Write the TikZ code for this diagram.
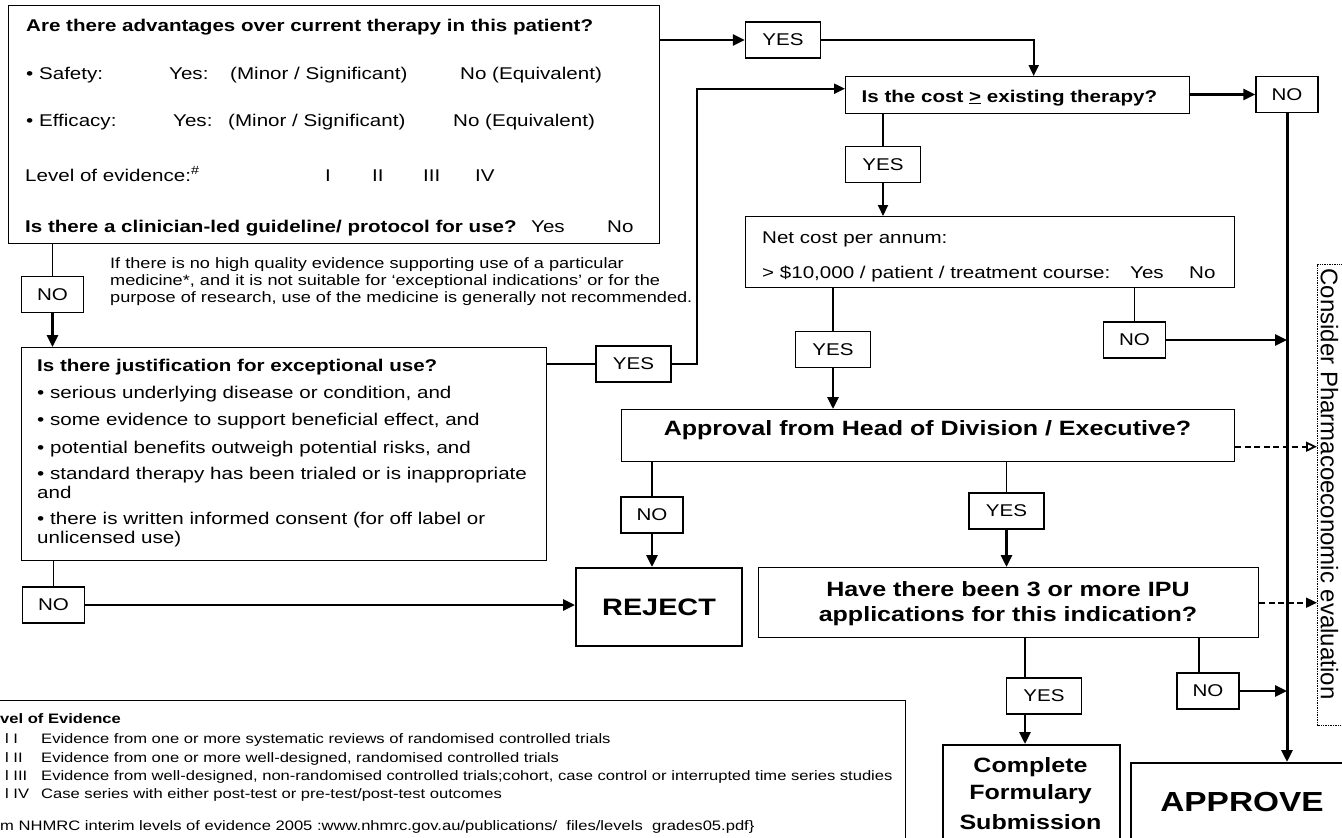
\documentclass[tikz,border=0pt]{standalone}
\usepackage{fontspec}
\setmainfont{Liberation Sans}[FakeStretch=1.21]
\newfontfamily\plainsans{Liberation Sans}
\usetikzlibrary{arrows.meta,calc}
\begin{document}
\begin{tikzpicture}[x=1pt,y=-1pt,
  box/.style={draw, line width=1.4pt, inner sep=0pt, anchor=north west},
  bigbox/.style={box, line width=2.1pt},
  lbl/.style={draw, line width=1.4pt, minimum height=36pt, inner sep=0pt, font=\fontsize{17}{20}\selectfont},
  yesbox/.style={lbl, minimum width=75pt},
  nobox/.style={lbl, minimum width=62pt},
  tx/.style={anchor=base west, inner sep=0pt, font=\fontsize{17}{20}\selectfont},
  tb/.style={anchor=base west, inner sep=0pt, font=\fontsize{17}{20}\selectfont\bfseries},
  note/.style={anchor=base west, inner sep=0pt, font=\fontsize{15}{17}\selectfont},
  leg/.style={anchor=base west, inner sep=0pt, font=\fontsize{13.7}{16}\selectfont},
  big/.style={inner sep=0pt, font=\fontsize{20.7}{25}\selectfont\bfseries},
  thinln/.style={line width=1.3pt},
  arr/.style={line width=2.8pt, -{Triangle[length=12pt,width=11pt]}},
  marr/.style={line width=2pt, -{Triangle[length=11pt,width=10pt]}},
  dsh/.style={line width=1.8pt, dash pattern=on 6pt off 3.5pt}
]
\useasboundingbox (0,0) rectangle (1342,838);

% ---------- boxes ----------
\node[box, minimum width=651pt, minimum height=238pt] (A) at (8,5) {};
\node[box, minimum width=525pt, minimum height=213pt] (B) at (21,347) {};
\node[box, minimum width=344pt, minimum height=37pt] (cost) at (845,76) {};
\node[box, minimum width=489pt, minimum height=71pt] (net) at (745,216) {};
\node[box, minimum width=613pt, minimum height=52pt] (head) at (621,409) {};
\node[box, minimum width=500pt, minimum height=70pt] (IPU) at (758,567) {};
\node[bigbox, minimum width=166pt, minimum height=78pt, font=\fontsize{23.8}{28}\selectfont\bfseries] (REJ) at (575,567) {REJECT};
\node[bigbox, minimum width=177pt, minimum height=120pt] (CMP) at (942,744) {};
\node[bigbox, minimum width=230pt, minimum height=100pt] (APP) at (1130,762) {};
\node[box, line width=1.4pt, dash pattern=on 1pt off 0.7pt, minimum width=50pt, minimum height=461pt] (CON) at (1317,264) {};
\node[box, minimum width=910pt, minimum height=150pt] (LEG) at (-5,700) {};

% ---------- YES / NO labels ----------
\node[yesbox] (YES1) at (783,40) {YES};
\node[nobox]  (NOc)  at (1287,94.5) {NO};
\node[yesbox] (YES3) at (883,164.5) {YES};
\node[yesbox] (YES2) at (633.5,364) {YES};
\node[yesbox] (YES4) at (833,349.5) {YES};
\node[nobox]  (NOn)  at (1134.5,340) {NO};
\node[nobox]  (NOa)  at (52.5,294.5) {NO};
\node[nobox]  (NOb)  at (53.5,605) {NO};
\node[nobox]  (NOh)  at (652,515) {NO};
\node[yesbox] (YES5) at (1006.5,511) {YES};
\node[yesbox] (YES6) at (1044,696) {YES};
\node[nobox]  (NOi)  at (1208,691) {NO};

% ---------- texts of box A ----------
\node[tb] (a1) at (26,31) {Are there advantages over current therapy in this patient?};
\node[tx] (a2) at (26,79) {• Safety:};
\node[tx] (a3) at (169,79) {Yes:};
\node[tx] (a4) at (230,79) {(Minor / Significant)};
\node[tx] (a5) at (460,79) {No (Equivalent)};
\node[tx] (a6) at (26,126) {• Efficacy:};
\node[tx] (a7) at (173,126) {Yes:};
\node[tx] (a8) at (228,126) {(Minor / Significant)};
\node[tx] (a9) at (453,126) {No (Equivalent)};
\node[tx] (a10) at (25,181) {Level of evidence:\textsuperscript{\#}};
\node[tx] (a11) at (325,181) {I};
\node[tx] (a12) at (372,181) {II};
\node[tx] (a13) at (423,181) {III};
\node[tx] (a14) at (475,181) {IV};
\node[tb] (a15) at (25,232) {Is there a clinician-led guideline/ protocol for use?};
\node[tx] (a16) at (531,232) {Yes};
\node[tx] (a17) at (607,232) {No};

% ---------- note ----------
\node[note] (n1) at (110,268) {If there is no high quality evidence supporting use of a particular};
\node[note] (n2) at (110,285) {medicine*, and it is not suitable for ‘exceptional indications’ or for the};
\node[note] (n3) at (110,302) {purpose of research, use of the medicine is generally not recommended.};

% ---------- texts of box B ----------
\node[tb] (b1) at (37,371) {Is there justification for exceptional use?};
\node[tx] (b2) at (37,398) {• serious underlying disease or condition, and};
\node[tx] (b3) at (37,425) {• some evidence to support beneficial effect, and};
\node[tx] (b4) at (37,453) {• potential benefits outweigh potential risks, and};
\node[tx] (b5) at (37,479) {• standard therapy has been trialed or is inappropriate};
\node[tx] (b6) at (37,498) {and};
\node[tx] (b7) at (37,524) {• there is written informed consent (for off label or};
\node[tx] (b8) at (37,543) {unlicensed use)};

% ---------- other texts ----------
\node[tb] (c1) at (861.5,102) {Is the cost \underline{>} existing therapy?};
\node[tx] (m1) at (762,243) {Net cost per annum:};
\node[tx] (m2) at (762,278) {> \$10,000 / patient / treatment course:};
\node[tx] (m3) at (1130,278) {Yes};
\node[tx] (m4) at (1189,278) {No};
\node[big] (h1) at (927.5,430) {Approval from Head of Division / Executive?};
\node[big] (i1) at (1008,589) {Have there been 3 or more IPU};
\node[big] (i2) at (1008,616) {applications for this indication?};
\node[big] (s1) at (1030.5,767) {Complete};
\node[big] (s2) at (1030.5,794) {Formulary};
\node[big] (s3) at (1030.5,822) {Submission};
\node[inner sep=0pt, font=\fontsize{27.6}{32}\selectfont\bfseries] (p1) at (1242,802) {APPROVE};
\node[inner sep=0pt, rotate=-90, font=\plainsans\fontsize{24}{28}\selectfont] (ct) at (1329.5,484) {Consider Pharmacoeconomic evaluation};

% ---------- legend ----------
\node[leg, font=\fontsize{13.7}{16}\selectfont\bfseries] (l0) at (0,723) {vel of Evidence};
\node[leg] (l1) at (5,743) {l I};
\node[leg] (l2) at (5,762) {l II};
\node[leg] (l3) at (5,780) {l III};
\node[leg] (l4) at (5,798) {l IV};
\node[leg] (d1) at (41,743) {Evidence from one or more systematic reviews of randomised controlled trials};
\node[leg] (d2) at (41,762) {Evidence from one or more well-designed, randomised controlled trials};
\node[leg] (d3) at (41,780) {Evidence from well-designed, non-randomised controlled trials;cohort, case control or interrupted time series studies};
\node[leg] (d4) at (41,798) {Case series with either post-test or pre-test/post-test outcomes};
\node[leg] (d5) at (0,830) {m NHMRC interim levels of evidence 2005 :www.nhmrc.gov.au/publications/\ \ files/levels\ \ grades05.pdf\}};

% ---------- connectors ----------
\coordinate (c6) at (1025,0);
\coordinate (c7) at (1199,0);
\draw[arr] (A.east |- YES1) -- (YES1.west);
\draw[marr] (YES1.east) -| ($(cost.north)+(16,0)$);
\draw[thinln] (B.east |- YES2) -- (YES2.west);
\draw[marr] (YES2.east) -- ++(25,0) |- ([yshift=6.5pt]cost.west);
\draw[arr] (cost.east |- NOc) -- (NOc.west);
\draw[arr, line width=3pt] (NOc.south) -- (NOc.south |- APP.north);
\draw[thinln] (cost.south -| YES3) -- (YES3.north);
\draw[marr] (YES3.south) -- (YES3.south |- net.north);
\draw[thinln] (net.south -| YES4) -- (YES4.north);
\draw[arr] (YES4.south) -- (YES4.south |- head.north);
\draw[thinln] (net.south -| NOn) -- (NOn.north);
\draw[arr] (NOn.east) -- (NOn.east -| NOc.south);
\draw[dsh, -{Triangle[open,length=11pt,width=10pt]}] ([yshift=-11pt]head.east) -- ([yshift=-11pt]head.east -| CON.west);
\draw[dsh, -{Triangle[length=11pt,width=10pt]}] (IPU.east) -- (IPU.east -| CON.west);
\draw[thinln] (head.south -| NOh) -- (NOh.north);
\draw[arr] (NOh.south) -- (NOh.south |- REJ.north);
\draw[thinln] (head.south -| YES5) -- (YES5.north);
\draw[arr] (YES5.south) -- (YES5.south |- IPU.north);
\draw[thinln] (IPU.south -| c6) -- (YES6.north -| c6);
\draw[arr] (YES6.south -| c6) -- (CMP.north -| c6);
\draw[thinln] (IPU.south -| c7) -- (NOi.north -| c7);
\draw[arr] (NOi.east) -- (NOi.east -| NOc.south);
\draw[thinln] (A.south -| NOa) -- (NOa.north);
\draw[arr] (NOa.south) -- (NOa.south |- B.north);
\draw[thinln] (B.south -| NOb) -- (NOb.north);
\draw[arr] (NOb.east) -- (NOb.east -| REJ.west);
\end{tikzpicture}
\end{document}
